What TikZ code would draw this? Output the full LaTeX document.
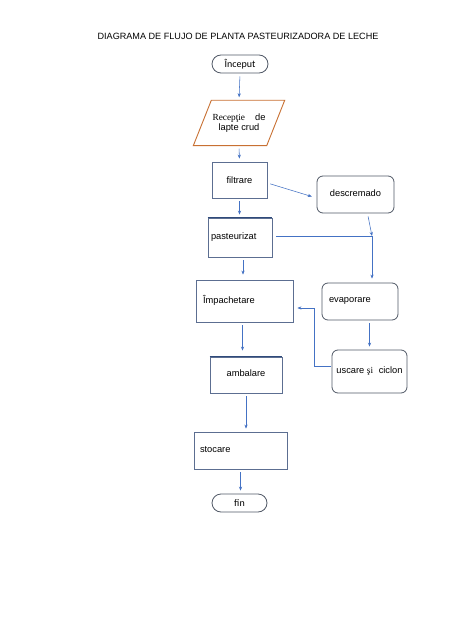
\documentclass[tikz,border=0pt]{standalone}
\usepackage{fontspec}
\setmainfont{Liberation Sans}
\newfontfamily\serifrm{Liberation Serif}
\newfontfamily\calib{Carlito}
\usetikzlibrary{arrows.meta,calc}
\definecolor{arrblue}{RGB}{68,114,196}
\definecolor{boxline}{RGB}{92,110,145}
\definecolor{boxtop}{RGB}{47,74,122}
\definecolor{roundline}{RGB}{80,88,102}
\definecolor{orangeline}{RGB}{200,112,50}
\tikzset{
  txt/.style={font=\fontsize{9.3bp}{11bp}\selectfont, text=black},
  sqbox/.style={draw=boxline, line width=0.8bp, inner sep=0pt, txt},
  rbox/.style={draw=roundline, line width=0.8bp, rounded corners=6bp, inner sep=0pt, txt},
  term/.style={draw=roundline, line width=0.8bp, rounded corners=9bp, inner sep=0pt, minimum height=18bp, font=\calib\fontsize{10bp}{12bp}\selectfont},
  arr/.style={draw=arrblue, line width=0.55bp, -{Stealth[length=4bp,width=3.2bp]}, shorten >=3bp, shorten <=3bp},
  ln/.style={draw=arrblue, line width=0.55bp, shorten <=4bp},
}
\begin{document}
\begin{tikzpicture}[x=1bp,y=-1bp]
\useasboundingbox[fill=white] (0,0) rectangle (474,632);
% title
\node[txt, font=\fontsize{9.1bp}{11bp}\selectfont] (title) at (238,36) {DIAGRAMA DE FLUJO DE PLANTA PASTEURIZADORA DE LECHE};
% nodes
\node[term, minimum width=56bp] (inceput) at (240,64) {Început};
\node[txt, minimum width=73bp, minimum height=45bp, align=center, inner sep=0pt] (recep) at (239,123) {{\serifrm Recepţie}\hspace{10bp}de\\[-1bp]lapte crud};
\draw[orangeline, line width=0.9bp]
  ($(recep.south west)+(-9,0)$) -- ($(recep.south east)+(-9,0)$) --
  ($(recep.north east)+(9,0)$) -- ($(recep.north west)+(9,0)$) -- cycle;
\node[sqbox, minimum width=55bp, minimum height=36bp] (filtrare) at (239.5,180) {filtrare};
\node[rbox, minimum width=77bp, minimum height=37bp] (descremado) at (355.5,194.5) {\raisebox{3bp}{descremado}};
\node[sqbox, minimum width=64bp, minimum height=39bp, text width=58bp, align=left] (pasteurizat) at (240,237.5) {\raisebox{2bp}{pasteurizat}};
\draw[boxtop, line width=1bp] (pasteurizat.north west) -- (pasteurizat.north east);
\node[sqbox, minimum width=97bp, minimum height=42bp, text width=83bp, align=left] (impach) at (244.5,301) {\raisebox{3bp}{Împachetare}};
\node[rbox, minimum width=76bp, minimum height=37bp, text width=62bp, align=left] (evaporare) at (360,301.5) {\raisebox{3bp}{evaporare}};
\node[rbox, minimum width=75bp, minimum height=43bp] (uscare) at (369.5,371.5) {uscare {\serifrm şi}\hspace{3bp} ciclon};
\node[sqbox, minimum width=72bp, minimum height=36bp] (ambalare) at (246,375) {\raisebox{3bp}{ambalare}};
\draw[boxtop, line width=1bp] (ambalare.north west) -- (ambalare.north east);
\node[sqbox, minimum width=93bp, minimum height=37bp, text width=81bp, align=left] (stocare) at (240.5,450.5) {\raisebox{2bp}{stocare}};
\node[term, minimum width=55bp] (fin) at (239.5,503) {fin};
\coordinate (j) at (372,236);
% connectors
\draw[arr] (inceput.south) -- (recep.north);
\draw[arr] (recep.south) -- (filtrare.north);
\draw[arr, shorten >=5bp] ([yshift=-3bp]filtrare.east) -- ([yshift=-3.5bp]descremado.west);
\draw[arr] (filtrare.south) -- (filtrare.south |- pasteurizat.north);
\draw[arr, shorten >=0bp] ([xshift=12bp]descremado.south) -- (j);
\draw[ln] (pasteurizat.east |- j) -- (j);
\draw[arr, shorten <=0bp, shorten >=4bp] (j) -- (j |- evaporare.north);
\draw[arr, shorten >=5bp] ([xshift=3bp]pasteurizat.south) -- ([xshift=3bp]pasteurizat.south |- impach.north);
\draw[arr] (evaporare.south -| uscare.north) -- (uscare.north);
\draw[arr, shorten >=4bp, shorten <=1bp] ([yshift=5.5bp]uscare.west) -- ++(-17,0) |- ([yshift=-7bp]impach.east);
\draw[arr, shorten >=6bp] ([xshift=-2bp]impach.south) -- ([xshift=-2bp]impach.south |- ambalare.north);
\draw[arr] (ambalare.south) -- (ambalare.south |- stocare.north);
\draw[arr] (stocare.south) -- (stocare.south |- fin.north);
\end{tikzpicture}
\end{document}
